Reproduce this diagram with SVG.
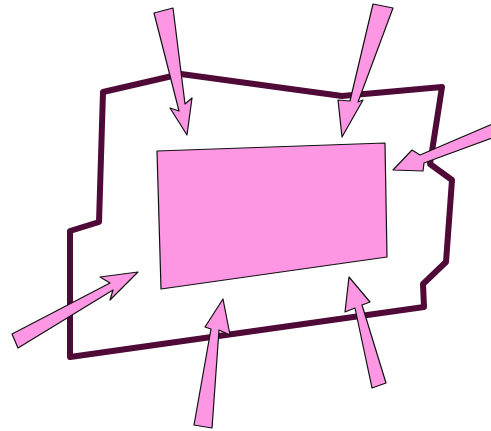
<svg xmlns="http://www.w3.org/2000/svg" width="491" height="431" viewBox="0 0 491 431">
<style>
.outline{fill:none;stroke:#500a37;stroke-width:6;stroke-linejoin:round;stroke-linecap:round}
.pink{fill:#fd96e3;stroke:#111;stroke-width:1.2;stroke-linejoin:round}
</style>
<rect width="491" height="431" fill="#fff"/>
<g id="outline">
<polygon class="outline" points="103,92 181,74 342,96 442,87 430,164 452,180 446,262 423,284 424,307 70,357 70,231 99,222"/>
</g>
<g id="box">
<polygon class="pink" points="157,151 385,143 387,257 161,289"/>
</g>
<g id="arrows">
<polygon class="pink" points="154,13 173,8 185,104 192,98 187,135 170,108 179,111"/>
<polygon class="pink" points="373,4 393,8 358,102 363,100 342,137 338,100 350,101"/>
<polygon class="pink" points="495,123 495,137 424,163 423,171 393,170 412,150 420,155"/>
<polygon class="pink" points="12,334 110,283 100,277 138,272 110,300 113,290 18,348"/>
<polygon class="pink" points="194,425 211,329 205,327 223,299 230,335 219,330 212,428"/>
<polygon class="pink" points="372,388 355,308 345,312 349,277 370,302 362,305 386,383"/>
</g>
</svg>
